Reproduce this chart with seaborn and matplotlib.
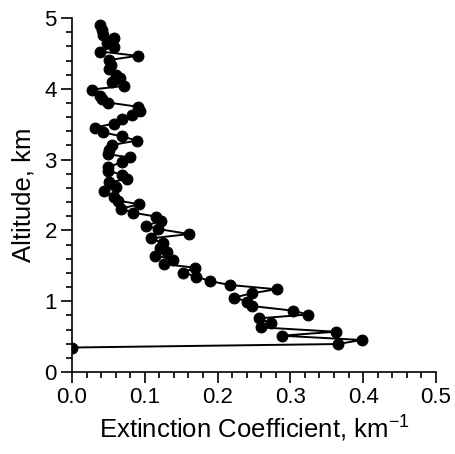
import numpy as np
import pandas as pd
import matplotlib
matplotlib.use("Agg")
import matplotlib.pyplot as plt
import seaborn as sns
from matplotlib.ticker import MultipleLocator

# Extinction coefficient (km^-1) and altitude (km), bottom to top
altitude = [0.346, 0.395, 0.452, 0.513, 0.569, 0.631, 0.688, 0.758, 0.812, 0.866,
            0.932, 0.993, 1.052, 1.112, 1.169, 1.229, 1.285, 1.349, 1.405, 1.473,
            1.525, 1.589, 1.645, 1.702, 1.756, 1.818, 1.888, 1.949, 2.020, 2.069,
            2.133, 2.196, 2.250, 2.306, 2.370, 2.422, 2.476, 2.552, 2.620, 2.677,
            2.726, 2.787, 2.842, 2.895, 2.966, 3.030, 3.075, 3.136, 3.206, 3.270,
            3.329, 3.386, 3.453, 3.507, 3.569, 3.630, 3.693, 3.747, 3.806, 3.852,
            3.905, 3.990, 4.040, 4.103, 4.153, 4.202, 4.273, 4.336, 4.407, 4.466,
            4.527, 4.597, 4.654, 4.713, 4.760, 4.831, 4.901]
extinction = [0.000, 0.365, 0.398, 0.288, 0.362, 0.259, 0.273, 0.257, 0.324, 0.304,
              0.247, 0.241, 0.223, 0.247, 0.281, 0.217, 0.189, 0.171, 0.152, 0.169,
              0.126, 0.139, 0.114, 0.130, 0.121, 0.125, 0.109, 0.161, 0.118, 0.102,
              0.122, 0.115, 0.084, 0.067, 0.092, 0.063, 0.058, 0.044, 0.060, 0.051,
              0.075, 0.068, 0.050, 0.050, 0.069, 0.080, 0.050, 0.051, 0.055, 0.089,
              0.068, 0.042, 0.031, 0.057, 0.069, 0.082, 0.094, 0.090, 0.050, 0.041,
              0.038, 0.027, 0.071, 0.055, 0.066, 0.060, 0.051, 0.054, 0.051, 0.090,
              0.039, 0.057, 0.048, 0.057, 0.042, 0.041, 0.038]

x_ticks = [0.0, 0.1, 0.2, 0.3, 0.4, 0.5]
x_labels = ["0.0", "0.1", "0.2", "0.3", "0.4", "0.5"]
y_ticks = [0, 1, 2, 3, 4, 5]
y_labels = ["0", "1", "2", "3", "4", "5"]

sns.set_theme(style="ticks")
plt.rcParams['font.family'] = ['Liberation Sans', 'DejaVu Sans']
plt.rcParams['mathtext.default'] = 'regular'

df = pd.DataFrame({"alt": altitude, "ext": extinction})

fig = plt.figure(figsize=(4.56, 4.54), dpi=100)
ax = fig.add_axes([0.158, 0.1806, 0.798, 0.7797])

sns.lineplot(data=df, x="ext", y="alt", sort=False, estimator=None,
             color="black", linewidth=1.4, marker="o", markersize=7.8,
             markeredgecolor="black", markerfacecolor="black", ax=ax)

ax.set_xlim(0, 0.5)
ax.set_ylim(0, 5)
ax.set_xticks(x_ticks)
ax.set_xticklabels(x_labels)
ax.set_yticks(y_ticks)
ax.set_yticklabels(y_labels)
ax.xaxis.set_minor_locator(MultipleLocator(0.02))
ax.yaxis.set_minor_locator(MultipleLocator(0.2))

ax.tick_params(which="major", length=8, width=1.2, direction="out",
               labelsize=16, colors="black", pad=3)
ax.tick_params(which="minor", length=4.5, width=1.2, direction="out", colors="black")

for s in ["top", "right"]:
    ax.spines[s].set_visible(False)
for s in ["left", "bottom"]:
    ax.spines[s].set_linewidth(1.2)
    ax.spines[s].set_color("black")

ax.set_xlabel("Extinction Coefficient, km$^{-1}$", fontsize=18.5, color="black", labelpad=4)
ax.set_ylabel("Altitude, km", fontsize=18.5, color="black", labelpad=6)

fig.savefig("out.png", dpi=100, facecolor="white")
